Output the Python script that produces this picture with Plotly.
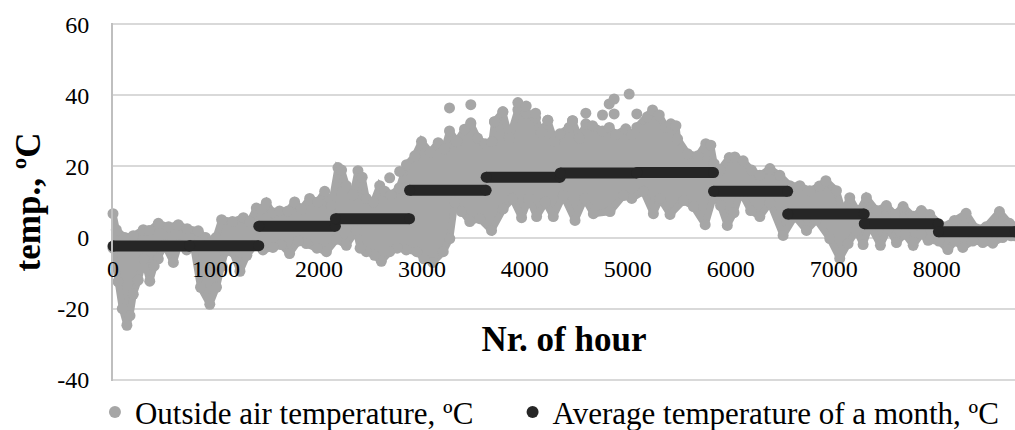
import plotly.graph_objects as go

hi_hours = [0,32,115,197,294,350,440,540,634,720,828,900,940,1000,1055,1160,1266,1330,1392,1440,1489,1550,1618,1700,1764,1830,1910,1990,2056,2120,2185,2220,2266,2330,2379,2420,2460,2530,2590,2640,2700,2780,2850,2931,2996,3080,3158,3220,3268,3340,3414,3475,3540,3614,3680,3705,3786,3850,3932,4013,4104,4158,4223,4290,4340,4430,4463,4530,4592,4657,4754,4820,4880,4980,5040,5087,5191,5240,5305,5370,5418,5467,5483,5580,5680,5757,5806,5838,5893,5985,6039,6120,6201,6282,6380,6476,6573,6670,6767,6860,6923,7026,7091,7155,7236,7317,7414,7511,7592,7673,7770,7851,7932,8058,8172,8285,8382,8479,8609,8706,8760]
hi_temps = [6.7,2.2,0,0.5,2.2,2,4,3,3.6,2.5,1.9,0,-1.5,0,5,4.5,5.6,4.5,8.3,8,9.8,7,7.5,7.5,10,8,11,10,13,9,19.7,19,14.6,12,18.8,17,11,10,14.6,13,12,14,20.5,23,27,24,26.7,25,30,27,30.5,32,28,26.4,27,32.6,35.4,28,36,35,33.7,29.5,33,27,29.2,31,32.9,28,32,31.5,30,31,29,30.6,29,31,34,35.9,34.5,31,32,31.5,27.8,23.6,23,26.4,26,20.8,19,22.5,22.7,21.6,19,17.5,19.4,17.5,14.6,14.6,13.2,14.5,16,13.2,7,11.2,7,11.2,7.6,9,6.5,8.7,6,7.6,6.5,3,4.8,6.8,2.5,3,7.3,4,3]
lo_hours = [0,48,90,135,165,197,245,300,357,400,440,500,586,640,715,780,850,940,1005,1060,1088,1160,1233,1300,1380,1456,1553,1630,1715,1800,1877,1980,2073,2170,2266,2363,2400,2460,2540,2606,2687,2760,2848,2950,3020,3107,3207,3271,3320,3385,3465,3562,3676,3790,3880,3968,4040,4114,4200,4276,4373,4487,4580,4665,4827,4957,5038,5151,5248,5313,5410,5540,5637,5751,5836,5900,5966,6031,6096,6193,6282,6380,6508,6622,6735,6832,6961,7058,7139,7220,7285,7350,7453,7530,7609,7690,7771,7850,7916,8020,8108,8180,8253,8350,8447,8544,8640,8722,8760]
lo_temps = [-3,-12.4,-20,-24.7,-22,-16,-12,-6,-12.3,-8,-6,-2,-7,-2,-3.5,-2,-14,-18.8,-14,-8,-4,-4,-9.5,-5,-2,-3.5,-2.8,-2,-4.5,-1,-1.7,-3,-4,-0.5,-2.2,2,-3,-4,-5,-6.7,-4,-3,-3.5,-4,-6,-7,-4,-0.3,10,7.3,4.5,5.3,2,8.1,11,5.6,11,5.9,10,5.9,11.8,4.8,11,6.7,7.3,11.8,11,13,6.7,11,6.5,10.4,8.7,3.6,12,9,3.4,7,13,7.6,5.9,9.8,0.6,6,2,5,-0.3,-5.9,-1.7,2,-2,3.5,-2.2,2.5,-1.4,1,-2.2,1,-0.8,-1,-3.4,-1,-2.8,-1,-1.4,-1.6,0,0.5,0.5]
peak_hours = [2687,2784,3268,3475,3475,3705,3786,3932,4013,4104,4223,4463,4592,4754,4819,4867,4867,5013,5087]
peak_temps = [16.8,18.6,36.5,37.4,32.3,32.6,35.4,38,37,35,33,32.9,35,34.5,37.6,39,34.8,40.4,34.8]

month_start = [0,744,1416,2160,2880,3624,4344,5088,5832,6552,7296,8016]
month_end = [744,1416,2160,2880,3624,4344,5088,5832,6552,7296,8016,8760]
month_avg = [-2.4,-2.3,3.2,5.3,13.3,17.0,18.2,18.3,13.0,6.6,3.9,1.6]

x_ticks = [0,1000,2000,3000,4000,5000,6000,7000,8000]
y_ticks = [-40,-20,0,20,40,60]
y_labels = ["-40","-20","0","20","40","60"]
name_outside = "Outside air temperature, ºC"
name_average = "Average temperature of a month, ºC"

GREY = "#A6A6A6"
DARK = "#262626"
FONT = "Liberation Serif"

fig = go.Figure()
fig.add_trace(go.Scatter(
    x=hi_hours + lo_hours[::-1], y=hi_temps + lo_temps[::-1],
    mode="lines+markers", fill="toself", fillcolor=GREY,
    line=dict(color=GREY, width=7), marker=dict(color=GREY, size=11),
    showlegend=False, cliponaxis=False, hoverinfo="skip"))
fig.add_trace(go.Scatter(
    x=peak_hours, y=peak_temps, mode="markers",
    marker=dict(color=GREY, size=11), showlegend=False, cliponaxis=False))
for s, e, v in zip(month_start, month_end, month_avg):
    fig.add_trace(go.Scatter(
        x=[s, e], y=[v, v], mode="lines+markers",
        line=dict(color=DARK, width=11), marker=dict(color=DARK, size=11),
        showlegend=False, cliponaxis=False))
fig.add_trace(go.Scatter(x=[None], y=[None], mode="markers", name=name_outside,
                         marker=dict(color=GREY, size=8), legend="legend"))
fig.add_trace(go.Scatter(x=[None], y=[None], mode="markers", name=name_average,
                         marker=dict(color=DARK, size=8), legend="legend2"))

legend_style = dict(yanchor="top", xanchor="left", y=-0.012,
                    font=dict(family=FONT, size=31), itemsizing="constant",
                    bgcolor="rgba(0,0,0,0)")

fig.update_layout(
    width=1015, height=445, autosize=False,
    margin=dict(l=113, r=0, t=22.6, b=63.6),
    paper_bgcolor="white", plot_bgcolor="white",
    font=dict(family=FONT, color="black", size=24),
    legend=dict(x=-0.02, **legend_style),
    legend2=dict(x=0.443, **legend_style),
    xaxis=dict(range=[0, 8760], tickvals=x_ticks, showgrid=False, zeroline=False,
               showline=False, anchor="free", position=0.4, ticks="outside",
               ticklen=9, tickcolor="rgba(0,0,0,0)", automargin=False,
               tickfont=dict(family=FONT, size=24),
               title=dict(text="<b>Nr. of hour</b>", font=dict(family=FONT, size=35), standoff=45)),
    yaxis=dict(range=[-40.4, 60.4], tickvals=y_ticks, ticktext=y_labels, showgrid=True,
               gridcolor="#D9D9D9", gridwidth=1.5, zeroline=False, showline=True,
               linecolor="#BFBFBF", linewidth=2, ticks="outside", ticklen=17,
               tickcolor="rgba(0,0,0,0)", automargin=False,
               tickfont=dict(family=FONT, size=24),
               title=dict(text="<b>temp., ºC</b>", font=dict(family=FONT, size=35), standoff=6)),
)
fig.write_html("out.html", config={"displayModeBar": False},
               post_script="document.body.style.margin='0';document.documentElement.style.overflow='hidden';")
